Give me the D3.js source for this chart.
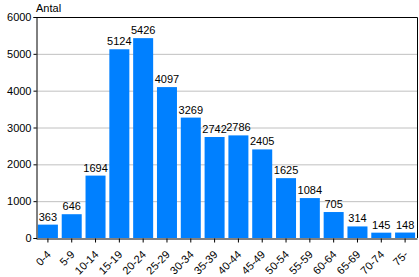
<!DOCTYPE html>
<html><head><meta charset="utf-8">
<script src="https://cdn.jsdelivr.net/npm/d3@7"></script>
<style>body{margin:0;background:#fff}svg{display:block}text{font-family:"Liberation Sans",Arial,sans-serif;font-size:11px;fill:#000}</style>
</head><body><svg id="c" width="419" height="277"></svg>
<script>
const categories = ["0-4","5-9","10-14","15-19","20-24","25-29","30-34","35-39","40-44","45-49","50-54","55-59","60-64","65-69","70-74","75-"];
const values = [363,646,1694,5124,5426,4097,3269,2742,2786,2405,1625,1084,705,314,145,148];
const yTicks = [0,1000,2000,3000,4000,5000,6000];
const yLabel = "Antal";

const svg = d3.select("#c");
const L = 36, R = 417, T = 17, B = 238;
const x = d3.scaleBand().domain(categories).range([L, R]).paddingInner(0.16).paddingOuter(0.08);
const y = d3.scaleLinear().domain([0, 6000]).range([B, T]);

svg.append("g").selectAll("line").data(yTicks.slice(1)).join("line")
  .attr("x1", L).attr("x2", R).attr("y1", d => y(d)+0.5).attr("y2", d => y(d)+0.5)
  .attr("stroke", "#c0c0c0").attr("stroke-width", 1);

svg.append("g").selectAll("rect").data(values).join("rect")
  .attr("x", (d,i) => x(categories[i])).attr("width", x.bandwidth())
  .attr("y", d => y(d)).attr("height", d => B - y(d))
  .attr("fill", "#0080ff");

svg.append("g").selectAll("text").data(values).join("text")
  .attr("x", (d,i) => x(categories[i]) + x.bandwidth()/2)
  .attr("y", d => y(d) - 4).attr("text-anchor", "middle").text(d => d);

svg.append("path").attr("d", `M${L+0.5},${T+0.5}H${R+0.5}V${B}`).attr("fill","none").attr("stroke","#000");

const ya = svg.append("g").attr("transform", `translate(${L+0.5},0)`)
  .call(d3.axisLeft(y).tickValues(yTicks).tickSize(3).tickPadding(2).tickFormat(d3.format("d")));
ya.select(".domain").attr("stroke","#000");
ya.selectAll("text").style("font-size","11px").attr("fill","#000");

const xa = svg.append("g").attr("transform", `translate(0,${B+0.5})`)
  .call(d3.axisBottom(x).tickSize(4).tickSizeOuter(0));
xa.select(".domain").attr("stroke","#000");
xa.selectAll("text").style("font-size","11px").attr("fill","#000")
  .attr("text-anchor","end").attr("x", 0).attr("y", 0).attr("dy","0.35em")
  .attr("transform","translate(1,14) rotate(-45)");

svg.append("text").attr("x", 36).attr("y", 12).text(yLabel);
</script></body></html>
